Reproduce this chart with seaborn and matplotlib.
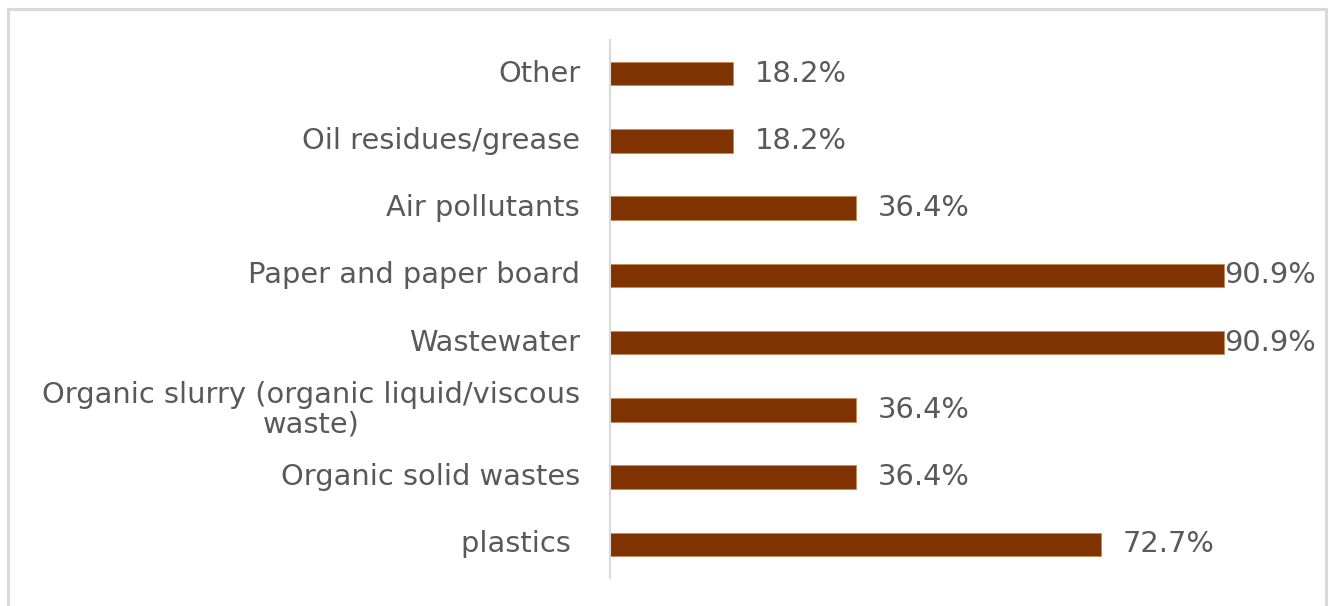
import matplotlib
matplotlib.use("Agg")
import matplotlib.pyplot as plt
import matplotlib.patches as mpatches
import seaborn as sns
import pandas as pd

# Waste categories (top to bottom) and share of respondents (%)
categories = [
    "Other",
    "Oil residues/grease",
    "Air pollutants",
    "Paper and paper board",
    "Wastewater",
    "Organic slurry (organic liquid/viscous\nwaste)",
    "Organic solid wastes",
    "plastics ",
]
shares = [18.2, 18.2, 36.4, 90.9, 90.9, 36.4, 36.4, 72.7]
value_labels = ["18.2%", "18.2%", "36.4%", "90.9%", "90.9%", "36.4%", "36.4%", "72.7%"]

sns.set_style("white")
plt.rcParams["font.family"] = ["DejaVu Sans"]

W, H, DPI = 1329, 606, 100
fig = plt.figure(figsize=(W / DPI, H / DPI), dpi=DPI)
fig.patch.set_facecolor("white")

# axes placed in pixel terms: left spine at x=610, plot band y=40..578
left_px, right_px = 610, 610 + 676
top_px, bot_px = 40, 578
ax = fig.add_axes([left_px / W, 1 - bot_px / H,
                   (right_px - left_px) / W, (bot_px - top_px) / H])

df = pd.DataFrame({"category": categories, "share": shares})
sns.barplot(data=df, y="category", x="share", orient="h", ax=ax,
            color="#7F3300", saturation=1, width=0.35,
            edgecolor="#C9895A", linewidth=0.6)

ax.set_xlim(0, 100)
ax.set_ylim(len(categories) - 0.5, -0.5)
ax.set_xlabel("")
ax.set_ylabel("")
ax.set_xticks([])

text_color = "#595959"
fs = 20.8
ax.tick_params(axis="y", length=0, pad=21.5, labelsize=fs, labelcolor=text_color)
for lbl in ax.get_yticklabels():
    lbl.set_multialignment("center")
    lbl.set_linespacing(1.05)
    lbl.set_verticalalignment("center")

for side in ["top", "right", "bottom"]:
    ax.spines[side].set_visible(False)
ax.spines["left"].set_color("#D9D9D9")
ax.spines["left"].set_linewidth(1.5)

# value labels just past each bar, kept inside the frame
max_label_x = 90.9
for i, (v, txt) in enumerate(zip(shares, value_labels)):
    x = min(v + 3.2, max_label_x)
    ax.text(x, i, txt, va="center", ha="left", fontsize=fs, color=text_color)

# light gray outer frame
frame = mpatches.Rectangle((7.5 / W, -0.05), (1326 - 7.5) / W, 1.05 - 8.5 / H,
                           transform=fig.transFigure, fill=False,
                           edgecolor="#D9D9D9", linewidth=2.2, clip_on=False)
fig.patches.append(frame)

fig.savefig("out.png", dpi=DPI, facecolor="white")
